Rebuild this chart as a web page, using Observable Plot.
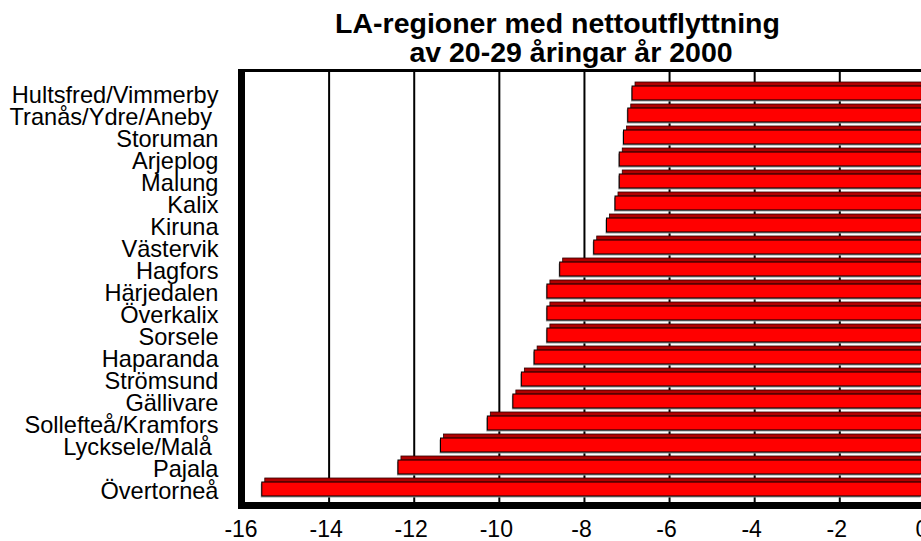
<!DOCTYPE html>
<html>
<head>
<meta charset="utf-8">
<script src="https://cdn.jsdelivr.net/npm/d3@7"></script>
<script src="https://cdn.jsdelivr.net/npm/@observablehq/plot@0.6"></script>
<style>
  html, body { margin: 0; padding: 0; background: #fff; overflow: hidden; }
  #wrap { position: relative; width: 921px; height: 541px; }
  .title { position: absolute; font-family: "Liberation Sans", Arial, sans-serif; font-weight: bold;
           font-size: 28.5px; line-height: 29px; white-space: nowrap; transform: translateX(-50%); color: #000; z-index: 2; }
  #t1 { left: 557.5px; top: 8.6px; }
  #t2 { left: 571px; top: 37.6px; }
  svg { display: block; }
</style>
</head>
<body>
<div id="wrap">
  <div class="title" id="t1">LA-regioner med nettoutflyttning</div>
  <div class="title" id="t2">av 20-29 åringar år 2000</div>
</div>
<script>
const regions = [
  "Hultsfred/Vimmerby", "Tranås/Ydre/Aneby ", "Storuman", "Arjeplog", "Malung",
  "Kalix", "Kiruna", "Västervik", "Hagfors", "Härjedalen", "Överkalix", "Sorsele",
  "Haparanda", "Strömsund", "Gällivare", "Sollefteå/Kramfors", "Lycksele/Malå ",
  "Pajala", "Övertorneå"
];
const values = [
  -6.8, -6.9, -7.0, -7.1, -7.1,
  -7.2, -7.4, -7.7, -8.5, -8.8, -8.8, -8.8,
  -9.1, -9.4, -9.6, -10.2, -11.3,
  -12.3, -15.5
];
const xTicks = [-16, -14, -12, -10, -8, -6, -4, -2, 0];
const gridTicks = [-14, -12, -10, -8, -6, -4, -2];

const data = regions.map((name, i) => ({name, value: values[i]}));

const frameMark = (index, scales, vals, dim) => {
  const {width, height, marginLeft, marginTop, marginBottom} = dim;
  const g = d3.create("svg:g");
  const bottom = height - marginBottom;
  g.append("rect").attr("x", marginLeft - 3).attr("y", marginTop - 1.5)
    .attr("width", width).attr("height", 3).attr("fill", "black");
  g.append("rect").attr("x", marginLeft - 3).attr("y", marginTop - 1.5)
    .attr("width", 7).attr("height", bottom - marginTop + 4.5).attr("fill", "black");
  g.append("rect").attr("x", marginLeft - 3).attr("y", bottom - 4)
    .attr("width", width).attr("height", 7).attr("fill", "black");
  return g.node();
};

const chart = Plot.plot({
  width: 921,
  height: 541,
  marginLeft: 241,
  marginTop: 70.5,
  marginBottom: 35,
  marginRight: -5,
  style: {fontFamily: "'Liberation Sans', Arial, sans-serif", background: "white", color: "black"},
  x: {domain: [-16, 0], range: [240.5, 921.4], label: null},
  y: {domain: regions, range: [70, 512], paddingInner: 0.3435, paddingOuter: 0.35, label: null},
  marks: [
    Plot.ruleX(gridTicks, {dx: 3, stroke: "black", strokeWidth: 2}),
    Plot.barX(data, {x1: d => d.value, x2: d => 0, y: "name", fill: "#9a9a9a", dx: -1, dy: 1.5}),
    Plot.barX(data, {x1: d => d.value, x2: d => 0, y: "name", fill: "#b00000", stroke: "#300000", strokeWidth: 0.8, dx: 3, dy: -4}),
    Plot.barX(data, {x1: d => d.value, x2: d => 0, y: "name", fill: "#ff0000", stroke: "black", strokeWidth: 1}),
    frameMark,
    Plot.axisX({ticks: xTicks, tickSize: 0, tickPadding: 14, fontSize: 23, label: null, tickFormat: d => String(d), fill: "black"}),
    Plot.axisY({tickSize: 0, tickPadding: 23, fontSize: 23.6, dy: 2, label: null, tickFormat: d => d.replace(/ $/, "\u00a0"), fill: "black"})
  ]
});
document.getElementById("wrap").appendChild(chart);
</script>
</body>
</html>
